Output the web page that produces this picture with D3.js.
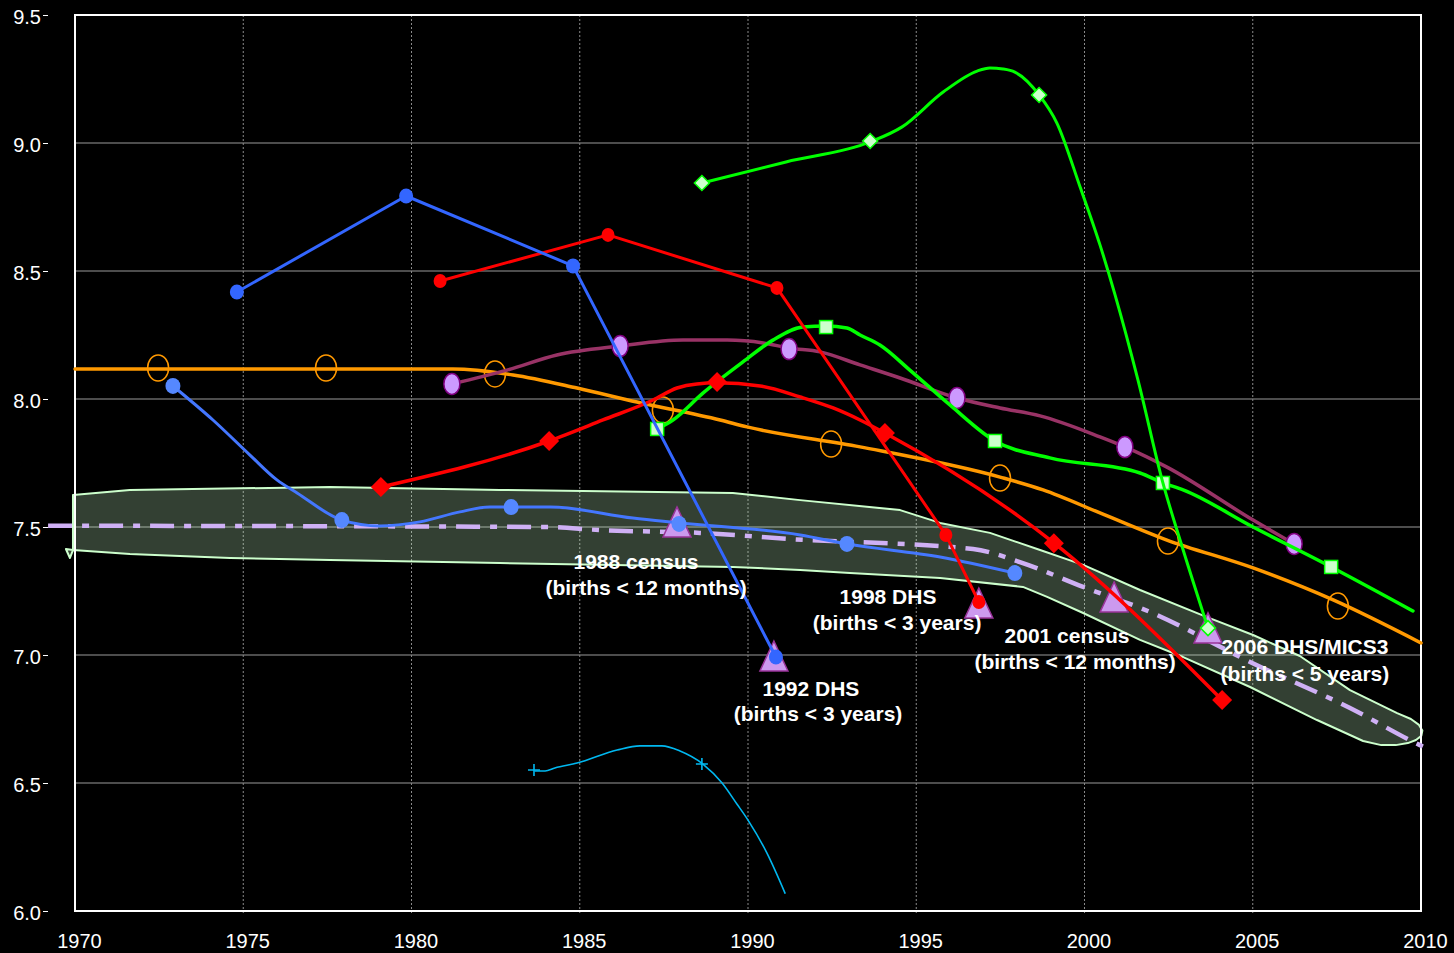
<!DOCTYPE html>
<html><head><meta charset="utf-8">
<script src="https://cdn.jsdelivr.net/npm/d3@7"></script>
<style>
html,body{margin:0;padding:0;background:#000;}
svg{display:block;font-family:"Liberation Sans",Arial,sans-serif;}
</style></head>
<body>
<svg id="chart" width="1454" height="953"></svg>
<script>
// ---------- DATA ----------
const xTicks = [1970,1975,1980,1985,1990,1995,2000,2005,2010];
const yTicks = [6.0,6.5,7.0,7.5,8.0,8.5,9.0,9.5];

// Blue series A (straight segments, circle markers)
const blueA = [[1974.81,8.418],[1979.84,8.793],[1984.80,8.520],[1990.83,6.992]];
// Red series A (straight segments, circle markers)
const redA = [[1980.85,8.461],[1985.84,8.641],[1990.86,8.434],[1995.88,7.469],[1996.86,7.207]];
// Blue series B (smooth)
const blueBLine = [[1972.91,8.051],[1974.10,7.918],[1975.20,7.781],[1976.00,7.684],[1976.60,7.633],[1977.93,7.527],[1979.06,7.504],[1980.25,7.520],[1981.44,7.559],[1982.33,7.578],[1982.96,7.578],[1984.12,7.578],[1986.58,7.535],[1987.98,7.516],[1991.55,7.469],[1992.94,7.434],[1995.71,7.383],[1997.93,7.320]];
const blueBPts = [[1972.91,8.051],[1977.93,7.527],[1982.96,7.578],[1987.95,7.512],[1992.94,7.434],[1997.93,7.320]];
// Red series B (diamonds)
const redBLine = [[1979.09,7.656],[1984.09,7.836],[1985.69,7.918],[1987.18,7.996],[1987.89,8.043],[1988.48,8.059],[1989.08,8.063],[1990.36,8.051],[1991.55,8.008],[1992.53,7.965],[1993.33,7.918],[1994.07,7.867],[1999.09,7.438],[2004.09,6.824]];
const redBPts = [[1979.09,7.656],[1984.09,7.836],[1989.08,8.066],[1994.07,7.867],[1999.09,7.437],[2004.09,6.824]];
// Orange series (hollow ellipses)
const orangeLine = [[1970.00,8.117],[1981.23,8.117],[1983.02,8.094],[1984.92,8.043],[1986.70,7.988],[1989.17,7.918],[1989.97,7.891],[1993.33,7.813],[1997.49,7.695],[1998.77,7.645],[2000.46,7.555],[2002.45,7.449],[2005.01,7.340],[2007.39,7.215],[2010.00,7.047]];
const orangePts = [[1972.47,8.121],[1977.46,8.121],[1982.48,8.098],[1987.47,7.957],[1992.47,7.824],[1997.49,7.691],[2002.48,7.445],[2007.53,7.191]];
// Maroon series (lavender ellipses)
const maroonLine = [[1981.20,8.059],[1982.84,8.113],[1984.32,8.172],[1986.20,8.207],[1988.07,8.230],[1989.38,8.230],[1990.45,8.219],[1991.22,8.199],[1992.14,8.184],[1993.33,8.133],[1994.52,8.082],[1996.21,8.004],[1997.49,7.965],[1998.68,7.934],[2000.46,7.852],[2001.20,7.813],[2002.45,7.734],[2005.01,7.527],[2006.23,7.434]];
const maroonPts = [[1981.20,8.059],[1986.20,8.207],[1991.22,8.195],[1996.21,8.004],[2001.20,7.8125],[2006.23,7.434]];
// Green series (squares)
const greenLine = [[1987.30,7.883],[1987.77,7.918],[1988.66,8.023],[1989.85,8.145],[1990.74,8.230],[1991.63,8.281],[1992.32,8.285],[1992.94,8.277],[1993.33,8.250],[1993.92,8.211],[1994.81,8.113],[1996.00,7.977],[1997.34,7.836],[1998.97,7.770],[2001.65,7.711],[2002.33,7.672],[2002.93,7.645],[2005.01,7.500],[2007.33,7.344],[2009.76,7.172]];
const greenPts = [[1987.30,7.883],[1992.32,8.281],[1997.34,7.836],[2002.33,7.672],[2007.33,7.344]];
// Green series (diamonds)
const greenDLine = [[1988.63,8.844],[1991.13,8.926],[1993.63,9.004],[1994.58,9.063],[1995.80,9.199],[1996.81,9.281],[1997.19,9.293],[1997.58,9.289],[1997.93,9.277],[1998.65,9.188],[1999.18,9.078],[1999.87,8.828],[2000.46,8.602],[2000.91,8.406],[2001.59,8.074],[2002.33,7.672],[2002.84,7.449],[2003.67,7.105]];
const greenDPts = [[1988.63,8.844],[1993.63,9.008],[1998.65,9.1875],[2003.67,7.105]];
// Cyan series (plus markers)
const cyanLine = [[1983.67,6.547],[1983.97,6.547],[1984.26,6.559],[1984.92,6.578],[1986.11,6.629],[1986.79,6.645],[1987.44,6.645],[1987.98,6.625],[1988.66,6.574],[1989.23,6.500],[1989.67,6.418],[1990.00,6.355],[1990.56,6.227],[1991.10,6.070]];
const cyanPts = [[1983.64,6.551],[1988.63,6.574]];
// Fitted trend (dash-dot)
const trendLine = [[1969.20,7.505],[1984.00,7.500],[1985.60,7.488],[1988.57,7.477],[1991.25,7.453],[1996.69,7.414],[1998.08,7.363],[1999.96,7.266],[2001.95,7.168],[2004.92,6.973],[2007.89,6.793],[2009.97,6.648],[2010.1,6.64]];
// Survey triangles
const triPts = [[1987.89,7.516],[1990.77,6.992],[1996.86,7.199],[2000.88,7.223],[2003.67,7.102]];
// Band outline
const bandOutline = [[1969.94,7.625],[1971.63,7.645],[1977.58,7.656],[1982.63,7.645],[1989.55,7.633],[1991.55,7.605],[1994.52,7.566],[1995.71,7.516],[1997.19,7.477],[1998.68,7.410],[1999.96,7.352],[2001.65,7.254],[2003.64,7.148],[2005.01,7.078],[2006.40,6.996],[2007.89,6.863],[2009.29,6.773],[2009.70,6.750],[2009.94,6.727],[2010.04,6.705],[2010.01,6.684],[2009.85,6.668],[2009.61,6.656],[2009.25,6.648],[2008.82,6.648],[2008.28,6.664],[2006.91,6.746],[2004.92,6.875],[2002.93,6.992],[2001.65,7.059],[1999.96,7.164],[1998.89,7.227],[1998.17,7.266],[1995.71,7.301],[1993.03,7.320],[1991.55,7.332],[1989.55,7.344],[1982.63,7.359],[1977.58,7.371],[1974.61,7.379],[1971.63,7.395],[1969.94,7.410],[1969.73,7.414],[1969.85,7.379],[1969.94,7.410]];
// Survey labels
const labelText = ["1988 census","(births < 12 months)","1992 DHS","(births < 3 years)","1998 DHS","(births < 3 years)","2001 census","(births < 12 months)","2006 DHS/MICS3","(births < 5 years)"];
const labelPos = [[1986.67,7.363],[1986.97,7.262],[1991.87,6.867],[1992.08,6.770],[1994.16,7.227],[1994.43,7.125],[1999.48,7.074],[1999.72,6.973],[2006.55,7.031],[2006.55,6.926]];

// ---------- CHART ----------
const svg = d3.select("#chart");
const L = 75, R = 1421, T = 15, B = 911;
const x = d3.scaleLinear().domain([1970,2010]).range([L,R]);
const y = d3.scaleLinear().domain([6,9.5]).range([B,T]);

svg.append("rect").attr("width",1454).attr("height",953).attr("fill","#000");

// grid
svg.append("g").selectAll("line").data(yTicks.filter(v=>v>6 && v<9.5)).join("line")
  .attr("x1",L).attr("x2",R).attr("y1",d=>y(d)).attr("y2",d=>y(d))
  .attr("stroke","#9a9a9a").attr("stroke-width",1.2);
svg.append("g").selectAll("line").data(xTicks.filter(v=>v>1970 && v<2010)).join("line")
  .attr("x1",d=>x(d)).attr("x2",d=>x(d)).attr("y1",T).attr("y2",B+4)
  .attr("stroke","#8a8a8a").attr("stroke-width",1).attr("stroke-dasharray","2,2");

// band
const lineLin = d3.line().x(d=>x(d[0])).y(d=>y(d[1]));
svg.append("path").attr("d",lineLin(bandOutline)+"Z")
  .attr("fill","#ccffcc").attr("fill-opacity",0.25)
  .attr("stroke","#ccffcc").attr("stroke-width",2).attr("stroke-linejoin","round");

// frame
svg.append("rect").attr("x",L).attr("y",T).attr("width",R-L).attr("height",B-T)
  .attr("fill","none").attr("stroke","#fff").attr("stroke-width",2);

// axes
const yAxis = d3.axisLeft(y).tickValues(yTicks).tickFormat(d3.format(".1f")).tickSize(5).tickPadding(2);
const gy = svg.append("g").attr("transform","translate(48,0)").call(yAxis);
gy.select(".domain").remove();
gy.selectAll("line").attr("stroke","#fff");
gy.selectAll("text").attr("fill","#fff").attr("font-size",20).attr("dy","0.42em")
  .attr("font-family","'Liberation Sans',Arial,sans-serif");

const xAxis = d3.axisBottom(x).tickValues(xTicks).tickFormat(d3.format("d")).tickSize(0).tickPadding(0);
const gx = svg.append("g").attr("transform",`translate(4,${B+23})`).call(xAxis);
gx.select(".domain").remove();
gx.selectAll("text").attr("fill","#fff").attr("font-size",20).attr("dy","0.71em")
  .attr("font-family","'Liberation Sans',Arial,sans-serif");

// trend dash-dot
svg.append("path").attr("d",d3.line().x(d=>x(d[0])).y(d=>y(d[1])).curve(d3.curveMonotoneX)(trendLine))
  .attr("fill","none").attr("stroke","#cfb0f5").attr("stroke-width",4.5)
  .attr("stroke-dasharray","24,10,7,10");

// triangles
svg.append("g").selectAll("path").data(triPts).join("path")
  .attr("d",d=>{const cx=x(d[0]),cy=y(d[1]);return `M${cx},${cy-16}L${cx+14},${cy+14}L${cx-14},${cy+14}Z`;})
  .attr("fill","#cc99ee").attr("stroke","#993399").attr("stroke-width",1.5);

const lineSmooth = d3.line().x(d=>x(d[0])).y(d=>y(d[1])).curve(d3.curveMonotoneX);
function drawLine(data, color, w, smooth){
  svg.append("path").attr("d",(smooth?lineSmooth:lineLin)(data))
    .attr("fill","none").attr("stroke",color).attr("stroke-width",w)
    .attr("stroke-linejoin","round").attr("stroke-linecap","round");
}

// cyan
drawLine(cyanLine,"#00b8f0",1.6,true);
svg.append("g").selectAll("path").data(cyanPts).join("path")
  .attr("d",d=>{const cx=x(d[0]),cy=y(d[1]);return `M${cx-6},${cy}H${cx+6}M${cx},${cy-6}V${cy+6}`;})
  .attr("stroke","#00b8f0").attr("stroke-width",1.6);

// orange
drawLine(orangeLine,"#ff9900",3.5,true);
svg.append("g").selectAll("ellipse").data(orangePts).join("ellipse")
  .attr("cx",d=>x(d[0])).attr("cy",d=>y(d[1])).attr("rx",10.5).attr("ry",13)
  .attr("fill","none").attr("stroke","#ff9900").attr("stroke-width",1.5);

// maroon
drawLine(maroonLine,"#993366",3.5,true);
svg.append("g").selectAll("ellipse").data(maroonPts).join("ellipse")
  .attr("cx",d=>x(d[0])).attr("cy",d=>y(d[1])).attr("rx",8).attr("ry",10.5)
  .attr("fill","#cc99ff").attr("stroke","#800080").attr("stroke-width",1.5);

// green squares
drawLine(greenLine,"#00ff00",3.5,true);
svg.append("g").selectAll("rect").data(greenPts).join("rect")
  .attr("x",d=>x(d[0])-6.5).attr("y",d=>y(d[1])-6.5).attr("width",13).attr("height",13)
  .attr("fill","#ccffcc").attr("stroke","#00ff00").attr("stroke-width",1.5);

// green diamonds
drawLine(greenDLine,"#00ff00",3,true);
svg.append("g").selectAll("path").data(greenDPts).join("path")
  .attr("d",d=>{const cx=x(d[0]),cy=y(d[1]);return `M${cx},${cy-7.5}L${cx+7.5},${cy}L${cx},${cy+7.5}L${cx-7.5},${cy}Z`;})
  .attr("fill","#ccffcc").attr("stroke","#00ff00").attr("stroke-width",1.5);

// red B diamonds
drawLine(redBLine,"#ff0000",3.5,true);
svg.append("g").selectAll("path").data(redBPts).join("path")
  .attr("d",d=>{const cx=x(d[0]),cy=y(d[1]);return `M${cx},${cy-10}L${cx+10},${cy}L${cx},${cy+10}L${cx-10},${cy}Z`;})
  .attr("fill","#ff0000");

// blue B
drawLine(blueBLine,"#4477ff",3,true);
svg.append("g").selectAll("ellipse").data(blueBPts).join("ellipse")
  .attr("cx",d=>x(d[0])).attr("cy",d=>y(d[1])).attr("rx",7.5).attr("ry",8)
  .attr("fill","#5588ff");

// red A
drawLine(redA,"#ff0000",3,false);
svg.append("g").selectAll("ellipse").data(redA).join("ellipse")
  .attr("cx",d=>x(d[0])).attr("cy",d=>y(d[1])).attr("rx",6.5).attr("ry",7)
  .attr("fill","#ff0000");

// blue A
drawLine(blueA,"#3366ff",3,false);
svg.append("g").selectAll("ellipse").data(blueA).join("ellipse")
  .attr("cx",d=>x(d[0])).attr("cy",d=>y(d[1])).attr("rx",7).attr("ry",7.5)
  .attr("fill","#3366ff");

// labels
svg.append("g").selectAll("text").data(labelText).join("text")
  .attr("x",(d,i)=>x(labelPos[i][0])).attr("y",(d,i)=>y(labelPos[i][1]))
  .attr("dy","0.35em").attr("text-anchor","middle")
  .attr("fill","#fff").attr("font-weight","bold").attr("font-size",21)
  .text(d=>d);
</script>
</body></html>
